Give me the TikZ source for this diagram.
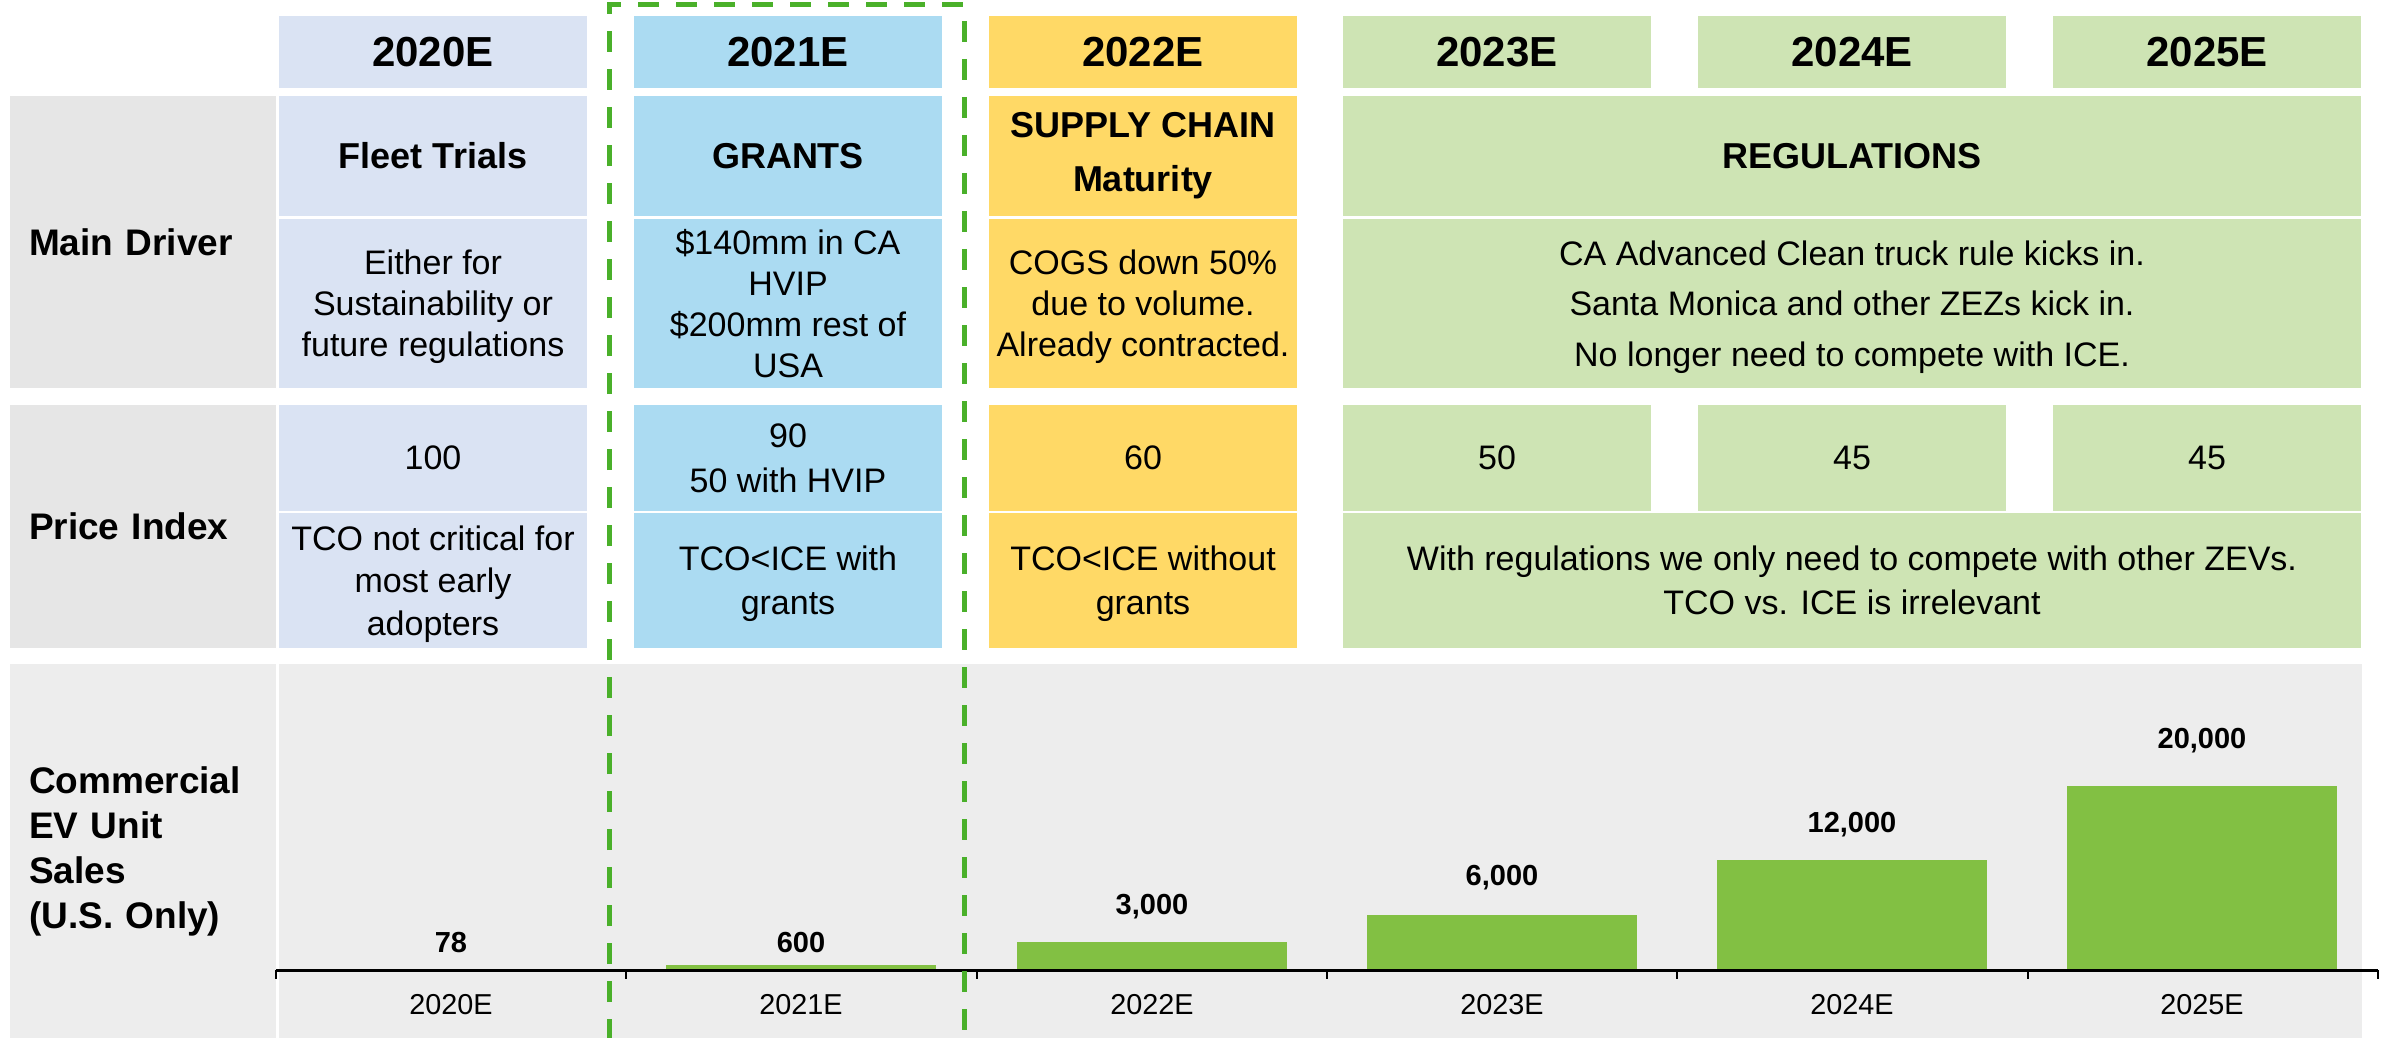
\documentclass[tikz,border=0pt]{standalone}
\usepackage{fontspec}
\setmainfont{Liberation Sans}

\definecolor{labelgray}{RGB}{230,230,230}
\definecolor{chartgray}{RGB}{237,237,237}
\definecolor{c2020}{RGB}{218,227,243}
\definecolor{c2021}{RGB}{171,219,242}
\definecolor{c2022}{RGB}{255,217,102}
\definecolor{cgreen}{RGB}{206,228,180}
\definecolor{bargreen}{RGB}{130,192,67}
\definecolor{dashgreen}{RGB}{74,176,42}

\newcommand{\bodyfont}{\fontsize{17}{20.5}\selectfont}
\newcommand{\titlefont}{\fontsize{18}{22}\selectfont\bfseries}
\newcommand{\labelfont}{\fontsize{18.5}{22.5}\selectfont\bfseries}

\begin{document}
\begin{tikzpicture}[
    x=0.5pt, y=-0.5pt,
    cell/.style={rectangle, inner sep=0pt, minimum width=154pt, align=center, font=\bodyfont},
    hdr/.style={cell, minimum height=36pt, font=\fontsize{21}{25}\selectfont\bfseries},
    title/.style={cell, minimum height=60pt, font=\titlefont},
    drvtext/.style={cell, minimum height=84.5pt, text depth=-3.5pt},
    price/.style={cell, minimum height=53pt},
    pricetext/.style={cell, minimum height=67.5pt, text depth=-3.5pt},
    rowlabel/.style={rectangle, inner xsep=9.5pt, inner ysep=0pt, text width=114pt, align=left, font=\labelfont},
    value/.style={font=\fontsize{14.5}{17}\selectfont\bfseries},
    category/.style={font=\fontsize{14.4}{17}\selectfont}
]
    \useasboundingbox (0,0) rectangle (2389,1038);

    % year headers
    \node[hdr, fill=c2020] (h2020) at (433,52) {2020E};
    \node[hdr, fill=c2021] (h2021) at (788,52) {2021E};
    \node[hdr, fill=c2022] (h2022) at (1143,52) {2022E};
    \node[hdr, fill=cgreen] (h2023) at (1497,52) {2023E};
    \node[hdr, fill=cgreen] (h2024) at (1852,52) {2024E};
    \node[hdr, fill=cgreen] (h2025) at (2207,52) {2025E};

    % main driver
    \node[rowlabel, fill=labelgray, minimum height=146pt] (driver) at (143,242) {Main Driver};
    \node[title, fill=c2020] (t2020) at (433,156) {Fleet Trials};
    \node[title, fill=c2021] (t2021) at (788,156) {GRANTS};
    \node[title, fill=c2022] (t2022) at (1143,156) {SUPPLY CHAIN\\[5pt]Maturity};
    \node[title, fill=cgreen, minimum width=509pt] (treg) at (1852,156) {REGULATIONS};
    \node[drvtext, fill=c2020] (d2020) at (433,303.5) {Either for\\Sustainability or\\future regulations};
    \node[drvtext, fill=c2021] (d2021) at (788,303.5) {\$140mm in CA\\HVIP\\\$200mm rest of\\USA};
    \node[drvtext, fill=c2022] (d2022) at (1143,303.5) {COGS down 50\%\\due to volume.\\Already contracted.};
    \node[drvtext, fill=cgreen, minimum width=509pt, text depth=-5pt] (dreg) at (1852,303.5) {CA Advanced Clean truck rule kicks in.\\[4.75pt]Santa Monica and other ZEZs kick in.\\[4.75pt]No longer need to compete with ICE.};

    % price index
    \node[rowlabel, fill=labelgray, minimum height=121.5pt] (pindex) at (143,526.5) {Price Index};
    \node[price, fill=c2020] (p2020) at (433,458) {100};
    \node[price, fill=c2021] (p2021) at (788,458) {90\\[2pt]50 with HVIP};
    \node[price, fill=c2022] (p2022) at (1143,458) {60};
    \node[price, fill=cgreen] (p2023) at (1497,458) {50};
    \node[price, fill=cgreen] (p2024) at (1852,458) {45};
    \node[price, fill=cgreen] (p2025) at (2207,458) {45};
    \node[pricetext, fill=c2020] (q2020) at (433,580.5) {TCO not critical for\\[0.75pt]most early\\[0.75pt]adopters};
    \node[pricetext, fill=c2021] (q2021) at (788,580.5) {TCO<ICE with\\[1.5pt]grants};
    \node[pricetext, fill=c2022] (q2022) at (1143,580.5) {TCO<ICE without\\[1.5pt]grants};
    \node[pricetext, fill=cgreen, minimum width=509pt] (qreg) at (1852,580.5) {With regulations we only need to compete with other ZEVs.\\[1.5pt]TCO vs. ICE is irrelevant};

    % unit sales chart
    \node[rowlabel, fill=chartgray, minimum height=187pt] (sales) at (143,851) {Commercial\\EV Unit\\Sales\\(U.S. Only)};
    \fill[chartgray] (279,664) rectangle (2362,1038);

    \fill[bargreen] (316,970) rectangle (586,969.3);
    \fill[bargreen] (666,970) rectangle (936,964.5);
    \fill[bargreen] (1017,970) rectangle (1287,942.4);
    \fill[bargreen] (1367,970) rectangle (1637,914.8);
    \fill[bargreen] (1717,970) rectangle (1987,859.6);
    \fill[bargreen] (2067,970) rectangle (2337,786);

    \node[value] (v2020) at (451,943) {78};
    \node[value] (v2021) at (801,943) {600};
    \node[value] (v2022) at (1152,907) {3,000};
    \node[value] (v2023) at (1502,878) {6,000};
    \node[value] (v2024) at (1852,825) {12,000};
    \node[value] (v2025) at (2202,741) {20,000};

    \draw[line width=1.5pt] (276,970) -- (2378,970);
    \draw[line width=1pt] (276,970) -- (276,979) (626,970) -- (626,979) (977,970) -- (977,979)
        (1327,970) -- (1327,979) (1677,970) -- (1677,979) (2028,970) -- (2028,979) (2378,970) -- (2378,979);

    \node[category] (c2020) at (451,1005) {2020E};
    \node[category] (c2021) at (801,1005) {2021E};
    \node[category] (c2022) at (1152,1005) {2022E};
    \node[category] (c2023) at (1502,1005) {2023E};
    \node[category] (c2024) at (1852,1005) {2024E};
    \node[category] (c2025) at (2202,1005) {2025E};

    % highlight of 2021E
    \draw[dashgreen, line width=2.5pt, dash pattern=on 10.5pt off 8.5pt] (609,1040) -- (609,5) -- (964,5) -- (964,1040);
\end{tikzpicture}
\end{document}
